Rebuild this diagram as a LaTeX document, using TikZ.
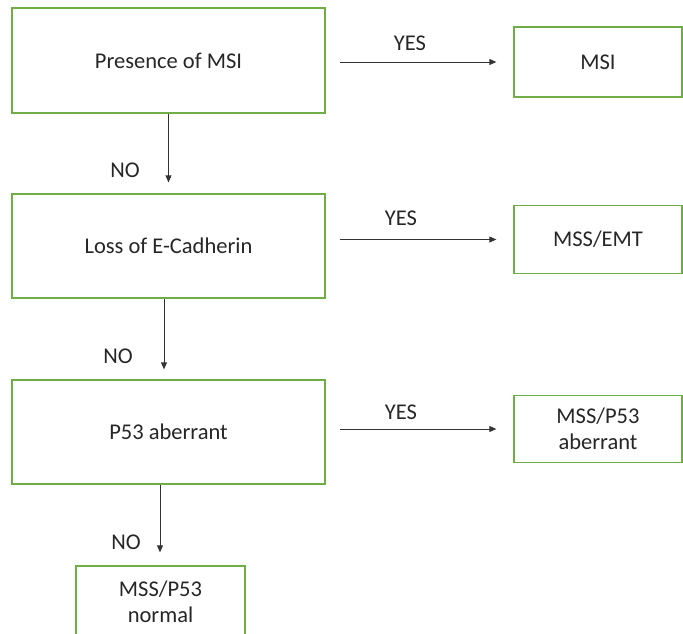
\documentclass[tikz,border=0pt]{standalone}
\usepackage{fontspec}
\setmainfont{Carlito}
\usetikzlibrary{arrows.meta}
\definecolor{boxgreen}{HTML}{70AD47}
\definecolor{txt}{HTML}{262626}
\tikzset{
  box/.style={draw=boxgreen, line width=1.3pt, rectangle, inner sep=0pt, align=center, text=txt, font=\fontsize{22.5}{26}\selectfont},
  arr/.style={draw=black!80, line width=0.8pt, -{Triangle[length=7pt,width=6pt]}},
  lbl/.style={text=txt, font=\fontsize{22.5}{26}\selectfont, inner sep=0pt}
}
\begin{document}
\begin{tikzpicture}[x=1pt,y=-1pt]
\useasboundingbox (0,0) rectangle (683,633);
\node[box, minimum width=313pt, minimum height=105pt] (b1) at (168.5,60.5) {Presence of MSI};
\node[box, minimum width=313pt, minimum height=104pt] (b2) at (168.5,246) {Loss of E-Cadherin};
\node[box, minimum width=313pt, minimum height=104pt] (b3) at (168.5,432) {P53 aberrant};
\node[box, minimum width=169pt, minimum height=72pt] (b4) at (160.5,602) {MSS/P53\\normal};
\node[box, minimum width=168pt, minimum height=70pt] (r1) at (598,62) {MSI};
\node[box, minimum width=168pt, minimum height=68pt] (r2) at (598,239.5) {MSS/EMT};
\node[box, minimum width=168pt, minimum height=67pt] (r3) at (598,429) {MSS/P53\\aberrant};
\draw[arr] (b1.south) -- ([yshift=11]b2.north);
\draw[arr] ([xshift=-4.5]b2.south) -- ([xshift=-4.5,yshift=10]b3.north);
\draw[arr] ([xshift=-8.5]b3.south) -- ([xshift=-0.5,yshift=13]b4.north);
\draw[arr] ([xshift=14]b1.east |- r1.west) -- ([xshift=-17]r1.west);
\draw[arr] ([xshift=14]b2.east |- r2.west) -- ([xshift=-17]r2.west);
\draw[arr] ([xshift=14]b3.east |- r3.west) -- ([xshift=-17]r3.west);
\node[lbl] (n1) at (125,170) {NO};
\node[lbl] (n2) at (118,356) {NO};
\node[lbl] (n3) at (126,542) {NO};
\node[lbl] (y1) at (410,43) {YES};
\node[lbl] (y2) at (401,218) {YES};
\node[lbl] (y3) at (401,412) {YES};
\end{tikzpicture}
\end{document}
